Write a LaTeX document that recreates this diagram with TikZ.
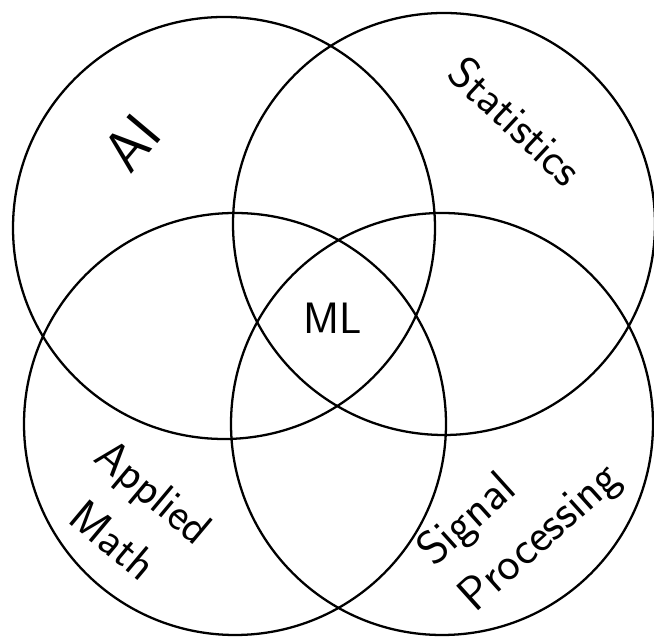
\documentclass[tikz,border=0pt]{standalone}
\usepackage{tikz}
\usetikzlibrary{positioning}

\begin{document}
\begin{tikzpicture}[font=\sffamily,
  ring/.style={draw=black,line width=1.3pt},
  lbl/.style={inner sep=1pt,font=\sffamily\fontsize{26}{36}\selectfont}]
  \useasboundingbox (0,0) rectangle (13.08,12.74);
  \def\R{4.22}
  % four sets
  \draw[ring] (4.48,8.18) circle (\R);
  \draw[ring] (8.88,8.26) circle (\R);
  \draw[ring] (4.70,4.26) circle (\R);
  \draw[ring] (8.84,4.26) circle (\R);
  % labels
  \node[lbl,rotate=50,font=\sffamily\fontsize{33}{40}\selectfont] (ai) at (2.64,9.88) {AI};
  \node[lbl,rotate=-43] (stat) at (10.32,10.32) {Statistics};
  \node[lbl,rotate=-40,align=center] (math) at (2.68,2.42) {Applied\\Math};
  \node[lbl,rotate=42,align=left,font=\sffamily\fontsize{27}{35}\selectfont] (sig) at (10.40,2.42) {Signal\\Processing};
  \node[lbl,font=\sffamily\fontsize{25}{30}\selectfont] (ml) at (6.66,6.38) {ML};
\end{tikzpicture}
\end{document}
